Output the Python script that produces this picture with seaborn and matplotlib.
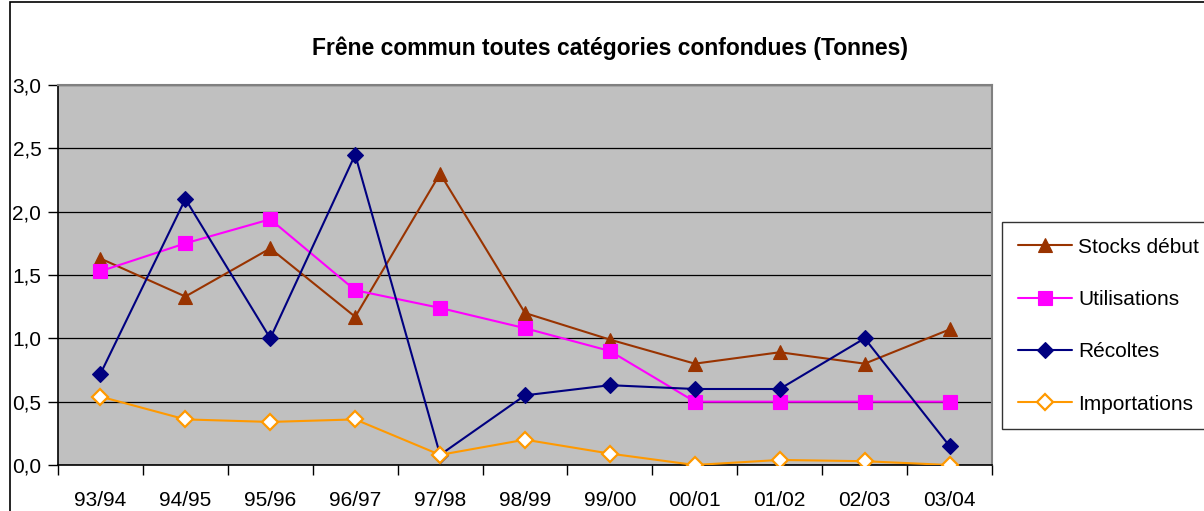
import matplotlib
matplotlib.use("Agg")
import matplotlib.pyplot as plt
import seaborn as sns
import pandas as pd
from matplotlib.ticker import MultipleLocator, FuncFormatter
from matplotlib.patches import Rectangle

campagnes = ["93/94", "94/95", "95/96", "96/97", "97/98", "98/99",
             "99/00", "00/01", "01/02", "02/03", "03/04"]
stocks_debut = [1.63, 1.33, 1.71, 1.17, 2.30, 1.20, 0.99, 0.80, 0.89, 0.80, 1.07]
utilisations = [1.53, 1.75, 1.94, 1.38, 1.24, 1.08, 0.90, 0.50, 0.50, 0.50, 0.50]
recoltes = [0.72, 2.10, 1.00, 2.45, 0.08, 0.55, 0.63, 0.60, 0.60, 1.00, 0.15]
importations = [0.54, 0.36, 0.34, 0.36, 0.08, 0.20, 0.09, 0.00, 0.04, 0.03, 0.00]

series = [
    ("Stocks début", stocks_debut, "#993300", "^", "#993300"),
    ("Utilisations", utilisations, "#FF00FF", "s", "#FF00FF"),
    ("Récoltes", recoltes, "#000080", "D", "#000080"),
    ("Importations", importations, "#FF9900", "D", "white"),
]

sns.set_theme(style="white")
plt.rcParams["font.family"] = ["Liberation Sans", "DejaVu Sans"]
plt.rcParams["text.color"] = "black"
plt.rcParams["axes.labelcolor"] = "black"

fig = plt.figure(figsize=(12.04, 5.11), dpi=100)
ax = fig.add_axes([58/1204, 1-465/511, (992-58)/1204, (465-85)/511])
ax.set_facecolor("#C0C0C0")

pos = list(range(len(campagnes)))
for name, vals, col, mk, fc in series:
    df = pd.DataFrame({"x": pos, "y": vals})
    sns.lineplot(data=df, x="x", y="y", ax=ax, color=col, marker=mk,
                 markersize=10 if mk != "D" else 8.5, markerfacecolor=fc,
                 markeredgecolor=col, markeredgewidth=1.6 if fc == "white" else 0.8,
                 linewidth=1.5, label=name, zorder=3)

ax.set_xlim(-0.5, len(campagnes) - 0.5)
ax.set_ylim(0, 3.0)
ax.yaxis.set_major_locator(MultipleLocator(0.5))
ax.yaxis.set_major_formatter(FuncFormatter(lambda v, p: f"{v:.1f}".replace(".", ",")))
ax.set_xticks(pos)
ax.set_xticklabels(campagnes)
ax.set_xticks([p - 0.5 for p in pos] + [len(campagnes) - 0.5], minor=True)
ax.tick_params(axis="x", which="major", length=0, pad=19, labelsize=15, colors="black")
ax.tick_params(axis="x", which="minor", length=7, width=1, color="black", direction="out", bottom=True)
ax.tick_params(axis="y", which="major", length=7, width=1, color="black", direction="out",
               left=True, labelsize=15, colors="black", pad=5)
ax.grid(axis="y", color="black", linewidth=0.9)
ax.grid(axis="x", visible=False)
ax.set_axisbelow(True)
ax.set_xlabel("")
ax.set_ylabel("")

for s in ["top", "right"]:
    ax.spines[s].set_color("#808080")
    ax.spines[s].set_linewidth(1.5)
for s in ["left", "bottom"]:
    ax.spines[s].set_color("black")
    ax.spines[s].set_linewidth(1.2)

fig.text(610/1204, 1-48/511, "Frêne commun toutes catégories confondues (Tonnes)",
         ha="center", va="center", fontsize=16.5, fontweight="bold", color="black")

leg = ax.legend(loc="upper left", bbox_to_anchor=(1002/1204, 1-222/511),
                bbox_transform=fig.transFigure, frameon=True, fancybox=False,
                edgecolor="black", fontsize=15, handlelength=2.6,
                labelspacing=1.6, borderpad=0.75, handletextpad=0.3, borderaxespad=0)
leg.get_frame().set_linewidth(1.0)
leg.get_frame().set_facecolor("white")
for t in leg.get_texts():
    t.set_color("black")

fig.patches.append(Rectangle((10/1204, -0.05), 1.2, 1.05 - 2/511, transform=fig.transFigure,
                             fill=False, edgecolor="black", linewidth=1.2, zorder=10))

fig.savefig("out.png", dpi=100)
